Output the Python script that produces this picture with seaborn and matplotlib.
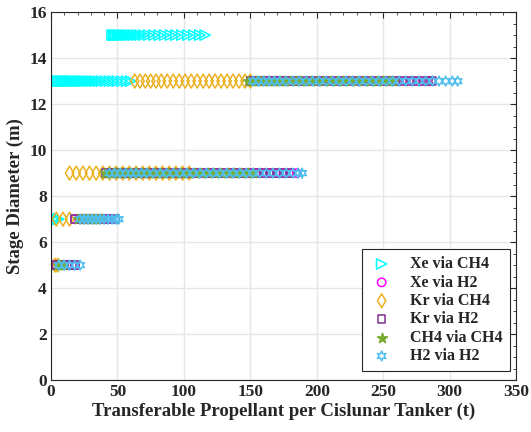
import matplotlib
matplotlib.use("Agg")
import matplotlib.pyplot as plt
from matplotlib.ticker import MultipleLocator
import pandas as pd
import seaborn as sns

# transferable propellant (t) per stage diameter (m)
xe_ch4 = {
    15: [46, 47, 48, 49, 50, 51, 52, 53.5, 55, 56.5, 58, 60, 62, 64.5, 67, 70, 73.5,
         77.5, 81.5, 85.5, 90, 94, 98.5, 103, 107.5, 112, 116],
    13: [5, 6, 7, 8, 9, 10, 11, 12, 13, 14, 15, 16, 17.5, 19, 20.5, 22, 23.5, 25, 27,
         29, 31, 33, 35.5, 38, 41, 44, 47, 50, 53.5, 57, 60],
    7: [2, 3, 4, 5, 6],
    5: [2, 3, 4],
}
xe_h2 = {
    13: [150, 153, 156, 159, 162, 166, 170, 174, 178, 182, 187, 192, 197, 202, 207, 212,
         217, 222, 227, 232, 237, 242, 247, 252, 257, 262, 267, 272, 277, 282, 286],
    9: [44, 47, 50, 53, 56, 60, 64, 68, 72, 76, 80, 85, 90, 95, 100, 105, 110, 115, 120,
        125, 130, 135, 140, 145, 150, 155, 160, 165, 170, 175, 180, 185],
    7: [18, 21, 24, 27, 30, 33, 36, 39, 42, 45],
    5: [4, 7, 10, 13, 16, 18],
}
kr_ch4 = {
    13: [63, 67, 71, 75, 79, 83, 87.5, 92, 96.5, 101, 105.5, 110, 114.5, 119, 123.5,
         128, 132.5, 137, 141.5, 146, 150],
    9: [14, 19, 24, 29, 34, 39, 44, 49, 54, 59, 64, 69, 74, 79, 84, 89, 94, 99, 104],
    7: [4, 9, 14],
    5: [3, 5],
}
kr_h2 = {
    13: [150, 154, 158, 162, 166, 170, 175, 180, 185, 190, 195, 200, 205, 210, 215, 220,
         225, 230, 235, 240, 245, 250, 255, 260, 265, 270, 275, 280, 284, 287],
    9: [41, 44, 47, 50, 54, 58, 62, 66, 70, 75, 80, 85, 90, 95, 100, 105, 110, 115, 120,
        125, 130, 135, 140, 145, 150, 155, 160, 165, 170, 175, 180],
    7: [18, 23, 28, 33, 38, 43, 48],
    5: [4, 7, 10, 13, 16, 18],
}
ch4_ch4 = {
    13: [148, 151, 154, 157, 160, 164, 168, 172, 176, 180, 184, 188, 192, 196, 200, 205,
         210, 215, 220, 225, 230, 235, 240, 245, 250, 254, 257],
    9: [41, 44, 47, 50, 53, 57, 61, 65, 69, 73, 78, 83, 88, 93, 98, 103, 108, 113, 118,
        123, 128, 133, 138, 143, 148, 152],
    7: [20, 23, 26, 29, 32, 35, 38],
    5: [5, 7, 9],
}
h2_h2 = {
    13: [152, 156, 160, 164, 168, 172, 177, 182, 187, 192, 197, 202, 207, 212, 217, 222,
         227, 232, 237, 242, 247, 252, 257, 262, 267, 272, 277, 282, 287, 292, 297, 302, 306],
    9: [44, 48, 52, 56, 60, 64, 68, 72, 77, 82, 87, 92, 97, 102, 107, 112, 117, 122, 127,
        132, 137, 142, 147, 152, 157, 162, 167, 172, 177, 182, 186, 189],
    7: [22, 25, 28, 31, 34, 37, 40, 43, 46, 49, 51],
    5: [6, 10, 14, 18, 22],
}

x_ticks = [0, 50, 100, 150, 200, 250, 300, 350]
y_ticks = [0, 2, 4, 6, 8, 10, 12, 14, 16]

series = [
    ("Xe via CH4", xe_ch4, ">", "#00ffff", 55, False),
    ("Xe via H2", xe_h2, "o", "#ff00ff", 36, False),
    ("Kr via CH4", kr_ch4, "d", "#edb120", 50, False),
    ("Kr via H2", kr_h2, "s", "#7e2f8e", 30, False),
    ("CH4 via CH4", ch4_ch4, "*", "#77ac30", 55, True),
    ("H2 via H2", h2_h2, (6, 1, 0), "#4dbeee", 50, False),
]

rows = []
for name, data, *_ in series:
    for dia, vals in data.items():
        for v in vals:
            rows.append({"series": name, "prop": v, "dia": dia})
df = pd.DataFrame(rows)

sns.set_style("whitegrid")
plt.rcParams["font.family"] = ["Liberation Serif", "DejaVu Serif"]
plt.rcParams["font.weight"] = "bold"

fig = plt.figure(figsize=(5.31, 4.32), dpi=100)
ax = fig.add_axes([0.096, 0.12, 0.876, 0.852])

for name, _, marker, color, size, filled in series:
    sub = df[df.series == name]
    sns.scatterplot(data=sub, x="prop", y="dia", marker=marker, s=size,
                    facecolor=color if filled else "none", edgecolor=color,
                    linewidth=1.1, label=name, ax=ax)

ax.set_xlim(0, 350)
ax.set_ylim(0, 16)
ax.set_xticks(x_ticks)
ax.set_xticklabels([str(t) for t in x_ticks], fontweight="bold")
ax.set_yticks(y_ticks)
ax.set_yticklabels([str(t) for t in y_ticks], fontweight="bold")
ax.xaxis.set_minor_locator(MultipleLocator(10))
ax.yaxis.set_minor_locator(MultipleLocator(0.5))
ax.grid(True, which="major", color="#e6e6e6", linewidth=1)
ax.grid(False, which="minor")
ax.tick_params(which="both", direction="in", top=True, right=True,
               color="#262626", labelsize=12.5, labelcolor="#262626")
ax.tick_params(which="major", length=4, pad=3)
ax.tick_params(which="minor", length=2.5)
for sp in ax.spines.values():
    sp.set_color("#262626")
    sp.set_linewidth(0.8)

ax.set_xlabel("Transferable Propellant per Cislunar Tanker (t)", fontsize=13.5,
              fontweight="bold", color="#262626", labelpad=2)
ax.set_ylabel("Stage Diameter (m)", fontsize=13.5, fontweight="bold",
              color="#262626", labelpad=4)

leg = ax.legend(loc="lower right", bbox_to_anchor=(0.987, 0.024), borderaxespad=0,
                fancybox=False, framealpha=1, edgecolor="#262626",
                prop={"size": 11.5, "weight": "bold"}, handlelength=1.6,
                handletextpad=1.0, borderpad=0.45, labelspacing=0.15)
leg.get_frame().set_linewidth(0.8)

fig.savefig("out.png", dpi=100)
